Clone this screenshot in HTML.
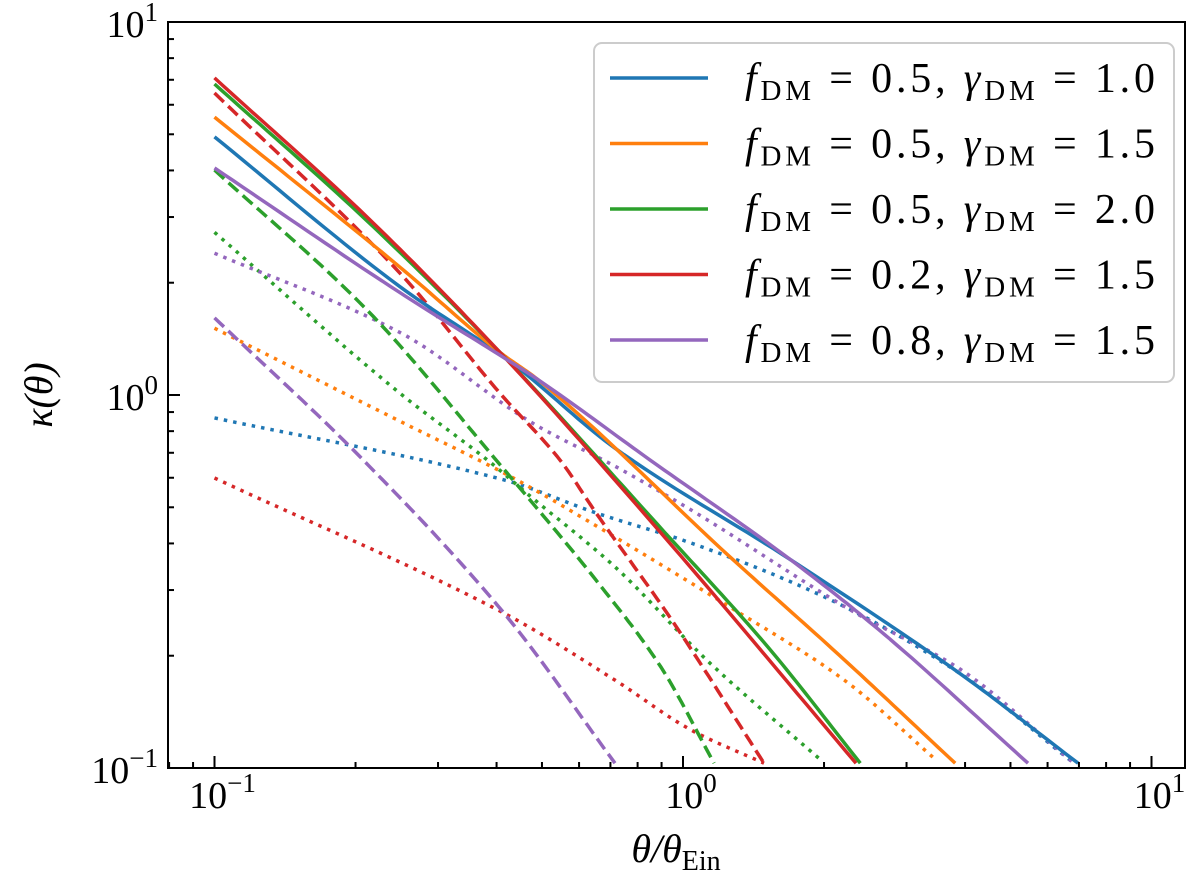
<!DOCTYPE html>
<html><head><meta charset="utf-8"><style>
body{margin:0;background:#fff;}
svg{display:block;font-family:"Liberation Serif","DejaVu Serif",serif;}
</style></head><body>
<svg id="chart" width="1200" height="880" xmlns="http://www.w3.org/2000/svg">
<defs><clipPath id="clip"><rect x="168" y="22" width="1017" height="746"/></clipPath></defs>
<g id="series" clip-path="url(#clip)"></g>
<rect x="168" y="22" width="1017" height="746" fill="none" stroke="#000" stroke-width="2"/>
<g id="ticks"></g>
<text x="676" y="862" font-size="40" text-anchor="middle" font-style="italic">θ/θ<tspan font-style="normal" font-size="28" dy="8">Ein</tspan></text>
<text transform="translate(52,395) rotate(-90)" font-size="40" text-anchor="middle" font-style="italic">κ(θ)</text>
<g>
<rect x="594" y="43" width="580" height="339" rx="8" fill="#fff" stroke="#ccc" stroke-width="2"/>
<g id="legend-entries"></g>
</g>
</svg>
<script>
const blueSolidX = [0.1,0.249,0.427,0.716,1.70,3.88,6.97];
const blueSolid = [4.92,1.95,1.23,0.72,0.361,0.18,0.103];
const blueDottedX = [0.1,0.415,0.652,1.04,2.01,3.88,6.83];
const blueDotted = [0.868,0.592,0.483,0.401,0.287,0.18,0.103];
const orangeSolidX = [0.1,0.249,0.407,0.49,1.26,2.21,3.81];
const orangeSolid = [5.56,2.20,1.30,1.10,0.368,0.195,0.103];
const orangeDottedX = [0.1,0.249,0.43,0.716,1.26,2.21,3.47];
const orangeDotted = [1.51,0.85,0.603,0.416,0.270,0.172,0.105];
const greenSolidX = [0.1,0.2116,0.407,0.916,1.518,2.39];
const greenSolid = [6.82,2.93,1.30,0.427,0.211,0.103];
const greenDashedX = [0.1,0.2116,0.407,0.652,0.897,1.165];
const greenDashed = [4.01,1.69,0.65,0.319,0.1865,0.103];
const greenDottedX = [0.1,0.249,0.382,0.474,0.716,1.142,1.97];
const greenDotted = [2.73,1.01,0.67,0.533,0.346,0.191,0.105];
const redSolidX = [0.1,0.2116,0.407,0.897,2.34];
const redSolid = [7.08,3.00,1.30,0.427,0.103];
const redDashedX = [0.1,0.249,0.407,0.546,0.652,0.947,1.489];
const redDashed = [6.45,2.12,1.01,0.670,0.483,0.249,0.103];
const redDottedX = [0.1,0.415,0.716,1.04,1.489];
const redDotted = [0.599,0.260,0.172,0.1265,0.103];
const purpleSolidX = [0.1,0.249,0.427,0.49,0.85,1.70,2.67,5.45];
const purpleSolid = [4.06,1.88,1.23,1.10,0.67,0.361,0.230,0.103];
const purpleDottedX = [0.1,0.249,0.478,0.723,1.04,2.34,3.88,6.83];
const purpleDotted = [2.40,1.47,0.84,0.64,0.492,0.26,0.185,0.103];
const purpleDashedX = [0.1,0.2047,0.415,0.716];
const purpleDashed = [1.61,0.682,0.260,0.103];
const xTickVals = [0.1,1,10];
const yTickVals = [10,1,0.1];
const legendLabels = [["0.5","1.0"],["0.5","1.5"],["0.5","2.0"],["0.2","1.5"],["0.8","1.5"]];

const C={blue:'#1f77b4',orange:'#ff7f0e',green:'#2ca02c',red:'#d62728',purple:'#9467bd'};
const X=v=>683+468.5*Math.log10(v);
const Y=v=>395-373*Math.log10(v);
const NS='http://www.w3.org/2000/svg';
const g=document.getElementById('series');
function smoothPts(xv,yv){
  const px=xv.map(X), py=yv.map(Y), n=px.length;
  if(n<3) return px.map((x,i)=>[x,py[i]]);
  const d=[],m=[];
  for(let i=0;i<n-1;i++) d.push((py[i+1]-py[i])/(px[i+1]-px[i]));
  m[0]=d[0]; m[n-1]=d[n-2];
  for(let i=1;i<n-1;i++){ m[i]= d[i-1]*d[i]<=0?0:(2/(1/d[i-1]+1/d[i])); }
  const out=[];
  for(let i=0;i<n-1;i++){
    const h=px[i+1]-px[i];
    for(let k=0;k<20;k++){
      const t=k/20, t2=t*t, t3=t2*t;
      const y=(2*t3-3*t2+1)*py[i]+(t3-2*t2+t)*h*m[i]+(-2*t3+3*t2)*py[i+1]+(t3-t2)*h*m[i+1];
      out.push([px[i]+t*h,y]);
    }
  }
  out.push([px[n-1],py[n-1]]);
  return out;
}
function line(xv,yv,col,dash,name){
  const p=document.createElementNS(NS,'path');
  const pts=smoothPts(xv,yv);
  p.setAttribute('d',pts.map((q,i)=>(i?'L':'M')+q[0].toFixed(1)+','+q[1].toFixed(1)).join(''));
  p.setAttribute('fill','none');p.setAttribute('stroke',col);p.setAttribute('stroke-width','3.5');
  if(dash)p.setAttribute('stroke-dasharray',dash);
  
  
  g.appendChild(p);
}
const DOT='3.5,6', DASH='13,6';
line(blueDottedX,blueDotted,C.blue,DOT,'blue-dotted-line');
line(orangeDottedX,orangeDotted,C.orange,DOT,'orange-dotted-line');
line(greenDottedX,greenDotted,C.green,DOT,'green-dotted-line');
line(redDottedX,redDotted,C.red,DOT,'red-dotted-line');
line(purpleDottedX,purpleDotted,C.purple,DOT,'purple-dotted-line');
line(greenDashedX,greenDashed,C.green,DASH,'green-dashed-line');
line(redDashedX,redDashed,C.red,DASH,'red-dashed-line');
line(purpleDashedX,purpleDashed,C.purple,DASH,'purple-dashed-line');
line(blueSolidX,blueSolid,C.blue,null,'blue-solid-line');
line(orangeSolidX,orangeSolid,C.orange,null,'orange-solid-line');
line(greenSolidX,greenSolid,C.green,null,'green-solid-line');
line(redSolidX,redSolid,C.red,null,'red-solid-line');
line(purpleSolidX,purpleSolid,C.purple,null,'purple-solid-line');

const t=document.getElementById('ticks');
function L(x1,y1,x2,y2,w){const l=document.createElementNS(NS,'line');l.setAttribute('x1',x1);l.setAttribute('y1',y1);l.setAttribute('x2',x2);l.setAttribute('y2',y2);l.setAttribute('stroke','#000');l.setAttribute('stroke-width',w);


t.appendChild(l);}
function T(x,y,exp,anchor,name){const e=document.createElementNS(NS,'text');e.setAttribute('x',x);e.setAttribute('y',y);e.setAttribute('font-size','38');e.setAttribute('text-anchor',anchor);
e.innerHTML='10<tspan font-size="27" dy="-16">'+exp+'</tspan>';


t.appendChild(e);}
for(let d=-2;d<=1;d++)for(let m=1;m<10;m++){const v=m*Math.pow(10,d);const px=X(v);if(px<168||px>1185)continue;
  L(px,768,px,768-(m==1?12:6),2);}
for(let d=-2;d<=1;d++)for(let m=1;m<10;m++){const v=m*Math.pow(10,d);const py=Y(v);if(py<21||py>769)continue;
  L(168,py,168+(m==1?12:6),py,2);}
xTickVals.forEach(v=>{const e=Math.round(Math.log10(v));T(X(v)+8,808,e<0?'−'+(-e):e,'middle','x-tick-label');});
yTickVals.forEach(v=>{const e=Math.round(Math.log10(v));T(158,Y(v)+15,e<0?'−'+(-e):e,'end','y-tick-label');});

const le=document.getElementById('legend-entries');
const cols=[C.blue,C.orange,C.green,C.red,C.purple];
legendLabels.forEach((lab,i)=>{
  const y=78+i*65.5;
  const l=document.createElementNS(NS,'line');
  l.setAttribute('x1',610);l.setAttribute('x2',708);l.setAttribute('y1',y);l.setAttribute('y2',y);
  l.setAttribute('stroke',cols[i]);l.setAttribute('stroke-width','3.5');
  
  
  le.appendChild(l);
  const tx=document.createElementNS(NS,'text');
  tx.setAttribute('x',745);tx.setAttribute('y',y+14);tx.setAttribute('font-size','42');
  tx.setAttribute('textLength','410');tx.setAttribute('lengthAdjust','spacing');
  tx.innerHTML='<tspan font-style="italic">f</tspan><tspan font-size="29" dy="8">DM</tspan><tspan dy="-8"> = '+lab[0]+', </tspan><tspan font-style="italic">γ</tspan><tspan font-size="29" dy="8">DM</tspan><tspan dy="-8"> = '+lab[1]+'</tspan>';
  
  
  le.appendChild(tx);
});
</script>
</body></html>
